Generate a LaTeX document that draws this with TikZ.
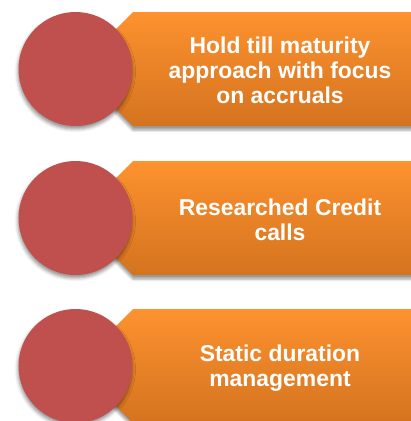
\documentclass[tikz,border=0pt]{standalone}
\usepackage{fontspec}
\setmainfont{Liberation Sans}
\usetikzlibrary{shadows.blur}
\definecolor{circred}{HTML}{C0504D}
\definecolor{orangetop}{HTML}{FD922F}
\definecolor{orangebot}{HTML}{D4731F}
\tikzset{
  disc/.style={circle, fill=circred, minimum size=114bp, inner sep=0pt,
    blur shadow={shadow xshift=-0.5bp, shadow yshift=-3bp, shadow blur radius=3.5bp, shadow opacity=45}},
  banner/.style={top color=orangetop, bottom color=orangebot,
    blur shadow={shadow xshift=0bp, shadow yshift=-4bp, shadow blur radius=2.5bp, shadow opacity=40}},
  label/.style={text=white, font=\bfseries\fontsize{23}{25}\selectfont, align=center, inner sep=0pt}
}
\begin{document}
\begin{tikzpicture}[x=1bp,y=-1bp]
\useasboundingbox (0,0) rectangle (411,421);
% row 1
\shade[banner] (133,12) -- (420,12) -- (420,126) -- (133,126) -- (76,69) -- cycle;
\node[disc] (c1) at (75.5,69) {};
\node[label] (t1) at (280,70) {Hold till maturity\\approach with focus\\on accruals};
% row 2
\shade[banner] (133,161) -- (420,161) -- (420,275) -- (133,275) -- (76,218) -- cycle;
\node[disc] (c2) at (75.5,218) {};
\node[label] (t2) at (280,220) {Researched Credit\\calls};
% row 3
\shade[banner] (133,309) -- (420,309) -- (420,423) -- (133,423) -- (76,366) -- cycle;
\node[disc] (c3) at (75.5,366) {};
\node[label] (t3) at (280,368) {Static duration\\management};
\end{tikzpicture}
\end{document}
